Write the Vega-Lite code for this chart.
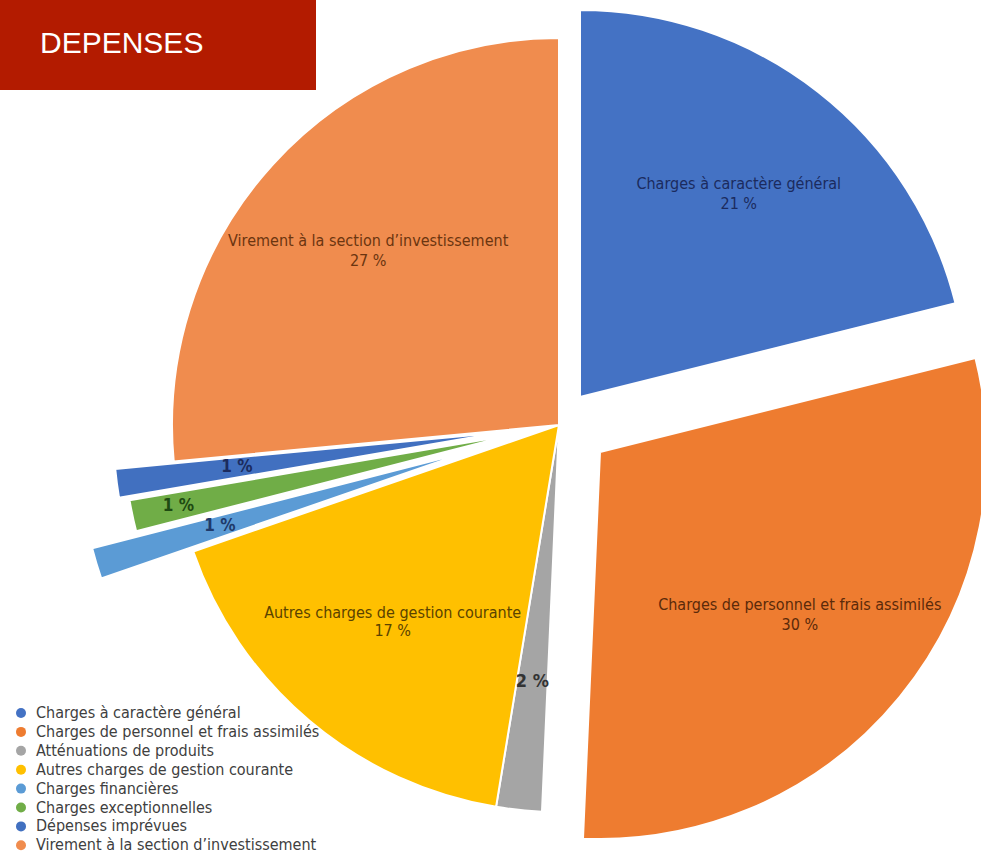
{
  "$schema": "https://vega.github.io/schema/vega-lite/v6.json",
  "width": 981,
  "height": 853,
  "autosize": {"type": "fit", "contains": "padding"},
  "padding": 0,
  "background": "white",
  "config": {
    "view": {"stroke": null},
    "legend": {
      "orient": "none",
      "legendX": 13,
      "legendY": 705,
      "symbolType": "circle",
      "symbolSize": 100,
      "symbolStrokeWidth": 0,
      "labelFontSize": 16,
      "labelFont": "DejaVu Sans Condensed",
      "labelColor": "#404040",
      "labelOffset": 7,
      "rowPadding": 2.9,
      "padding": 0,
      "labelLimit": 400
    }
  },
  "data": {
    "values": [
      {"order": 1, "name": "Charges à caractère général", "value": 21.1, "label": "21 %"},
      {"order": 2, "name": "Charges de personnel et frais assimilés", "value": 29.6, "label": "30 %"},
      {"order": 3, "name": "Atténuations de produits", "value": 1.9, "label": "2 %"},
      {"order": 4, "name": "Autres charges de gestion courante", "value": 17.1, "label": "17 %"},
      {"order": 5, "name": "Charges financières", "value": 1.3, "label": "1 %"},
      {"order": 6, "name": "Charges exceptionnelles", "value": 1.3, "label": "1 %"},
      {"order": 7, "name": "Dépenses imprévues", "value": 1.2, "label": "1 %"},
      {"order": 8, "name": "Virement à la section d’investissement", "value": 26.5, "label": "27 %"}
    ]
  },
  "layer": [
    {
      "data": {"values": [{"t": "DEPENSES"}]},
      "mark": {"type": "rect", "color": "#B31B00"},
      "encoding": {
        "x": {"value": 0},
        "x2": {"value": 316},
        "y": {"value": 0},
        "y2": {"value": 90}
      }
    },
    {
      "data": {"values": [{"t": "DEPENSES"}]},
      "mark": {"type": "text", "align": "left", "baseline": "middle", "font": "Liberation Sans", "fontSize": 30, "color": "white"},
      "encoding": {
        "text": {"field": "t"},
        "x": {"value": 40},
        "y": {"value": 44}
      }
    },
    {
      "encoding": {
        "theta": {"field": "value", "type": "quantitative", "stack": true, "scale": {"domain": [0, 100]}},
        "order": {"field": "order", "type": "quantitative"}
      },
      "layer": [
        {
          "mark": {"type": "arc", "outerRadius": 387, "stroke": "white", "strokeWidth": 2, "xOffset": 79, "yOffset": -1.5},
          "encoding": {
            "color": {"field": "name", "type": "nominal", "title": null,
              "scale": {"domain": ["Charges à caractère général","Charges de personnel et frais assimilés","Atténuations de produits","Autres charges de gestion courante","Charges financières","Charges exceptionnelles","Dépenses imprévues","Virement à la section d’investissement"],
                        "range": ["#4472C4","#EE7C30","#A5A5A5","#FFC000","#5B9BD5","#70AD47","#4170C0","#F08C4E"]}},
            "opacity": {"condition": {"test": "datum.order == 3 || datum.order == 4 || datum.order == 8", "value": 1}, "value": 0}
          }
        },
        {
          "mark": {"type": "arc", "outerRadius": 387, "stroke": "white", "strokeWidth": 2, "xOffset": 100, "yOffset": -29.5},
          "encoding": {
            "color": {"field": "name", "type": "nominal", "title": null},
            "opacity": {"condition": {"test": "datum.order == 1", "value": 1}, "value": 0}
          }
        },
        {
          "mark": {"type": "arc", "outerRadius": 387, "stroke": "white", "strokeWidth": 2, "xOffset": 120, "yOffset": 25.5},
          "encoding": {
            "color": {"field": "name", "type": "nominal", "title": null},
            "opacity": {"condition": {"test": "datum.order == 2", "value": 1}, "value": 0}
          }
        },
        {
          "mark": {"type": "arc", "outerRadius": 387, "stroke": "white", "strokeWidth": 2, "xOffset": -13, "yOffset": 25.5},
          "encoding": {
            "color": {"field": "name", "type": "nominal", "title": null},
            "opacity": {"condition": {"test": "datum.order == 5", "value": 1}, "value": 0}
          }
        },
        {
          "mark": {"type": "arc", "outerRadius": 387, "stroke": "white", "strokeWidth": 2, "xOffset": 31, "yOffset": 8.5},
          "encoding": {
            "color": {"field": "name", "type": "nominal", "title": null},
            "opacity": {"condition": {"test": "datum.order == 6", "value": 1}, "value": 0}
          }
        },
        {
          "mark": {"type": "arc", "outerRadius": 387, "stroke": "white", "strokeWidth": 2, "xOffset": 20.5, "yOffset": 6},
          "encoding": {
            "color": {"field": "name", "type": "nominal", "title": null},
            "opacity": {"condition": {"test": "datum.order == 7", "value": 1}, "value": 0}
          }
        },
        {
          "mark": {"type": "text", "radius": 258, "xOffset": 100, "yOffset": -29.5, "dy": -10, "font": "DejaVu Sans Condensed", "fontSize": 16, "color": "#1B2B5E"},
          "encoding": {"text": {"condition": {"test": "datum.order == 1", "field": "name"}, "value": ""}}
        },
        {
          "mark": {"type": "text", "radius": 258, "xOffset": 100, "yOffset": -29.5, "dy": 10, "font": "DejaVu Sans Condensed", "fontSize": 16, "color": "#1B2B5E"},
          "encoding": {"text": {"condition": {"test": "datum.order == 1", "field": "label"}, "value": ""}}
        },
        {
          "mark": {"type": "text", "radius": 258, "xOffset": 120, "yOffset": 25.5, "dy": -10, "font": "DejaVu Sans Condensed", "fontSize": 16, "color": "#5B2A0A"},
          "encoding": {"text": {"condition": {"test": "datum.order == 2", "field": "name"}, "value": ""}}
        },
        {
          "mark": {"type": "text", "radius": 258, "xOffset": 120, "yOffset": 25.5, "dy": 10, "font": "DejaVu Sans Condensed", "fontSize": 16, "color": "#5B2A0A"},
          "encoding": {"text": {"condition": {"test": "datum.order == 2", "field": "label"}, "value": ""}}
        },
        {
          "mark": {"type": "text", "radius": 258, "xOffset": 79, "yOffset": -1.5, "dy": -9, "font": "DejaVu Sans Condensed", "fontSize": 16, "color": "#5A4300"},
          "encoding": {"text": {"condition": {"test": "datum.order == 4", "field": "name"}, "value": ""}}
        },
        {
          "mark": {"type": "text", "radius": 258, "xOffset": 79, "yOffset": -1.5, "dy": 9, "font": "DejaVu Sans Condensed", "fontSize": 16, "color": "#5A4300"},
          "encoding": {"text": {"condition": {"test": "datum.order == 4", "field": "label"}, "value": ""}}
        },
        {
          "mark": {"type": "text", "radius": 258, "xOffset": 79, "yOffset": -1.5, "dy": -10, "font": "DejaVu Sans Condensed", "fontSize": 16, "color": "#6B3510"},
          "encoding": {"text": {"condition": {"test": "datum.order == 8", "field": "name"}, "value": ""}}
        },
        {
          "mark": {"type": "text", "radius": 258, "xOffset": 79, "yOffset": -1.5, "dy": 10, "font": "DejaVu Sans Condensed", "fontSize": 16, "color": "#6B3510"},
          "encoding": {"text": {"condition": {"test": "datum.order == 8", "field": "label"}, "value": ""}}
        },
        {
          "mark": {"type": "text", "radius": 258, "xOffset": 79, "yOffset": -1.5, "font": "DejaVu Sans Condensed", "fontWeight": "bold", "fontSize": 18, "color": "#333333"},
          "encoding": {"text": {"condition": {"test": "datum.order == 3", "field": "label"}, "value": ""}}
        },
        {
          "mark": {"type": "text", "radius": 258, "xOffset": -13, "yOffset": 25.5, "font": "DejaVu Sans Condensed", "fontWeight": "bold", "fontSize": 17, "color": "#1F3A6A"},
          "encoding": {"text": {"condition": {"test": "datum.order == 5", "field": "label"}, "value": ""}}
        },
        {
          "mark": {"type": "text", "radius": 340, "xOffset": 31, "yOffset": 8.5, "font": "DejaVu Sans Condensed", "fontWeight": "bold", "fontSize": 17, "color": "#1E4A12"},
          "encoding": {"text": {"condition": {"test": "datum.order == 6", "field": "label"}, "value": ""}}
        },
        {
          "mark": {"type": "text", "radius": 266, "xOffset": 20.5, "yOffset": 6, "font": "DejaVu Sans Condensed", "fontWeight": "bold", "fontSize": 17, "color": "#1B2B5E"},
          "encoding": {"text": {"condition": {"test": "datum.order == 7", "field": "label"}, "value": ""}}
        }
      ]
    }
  ]
}
